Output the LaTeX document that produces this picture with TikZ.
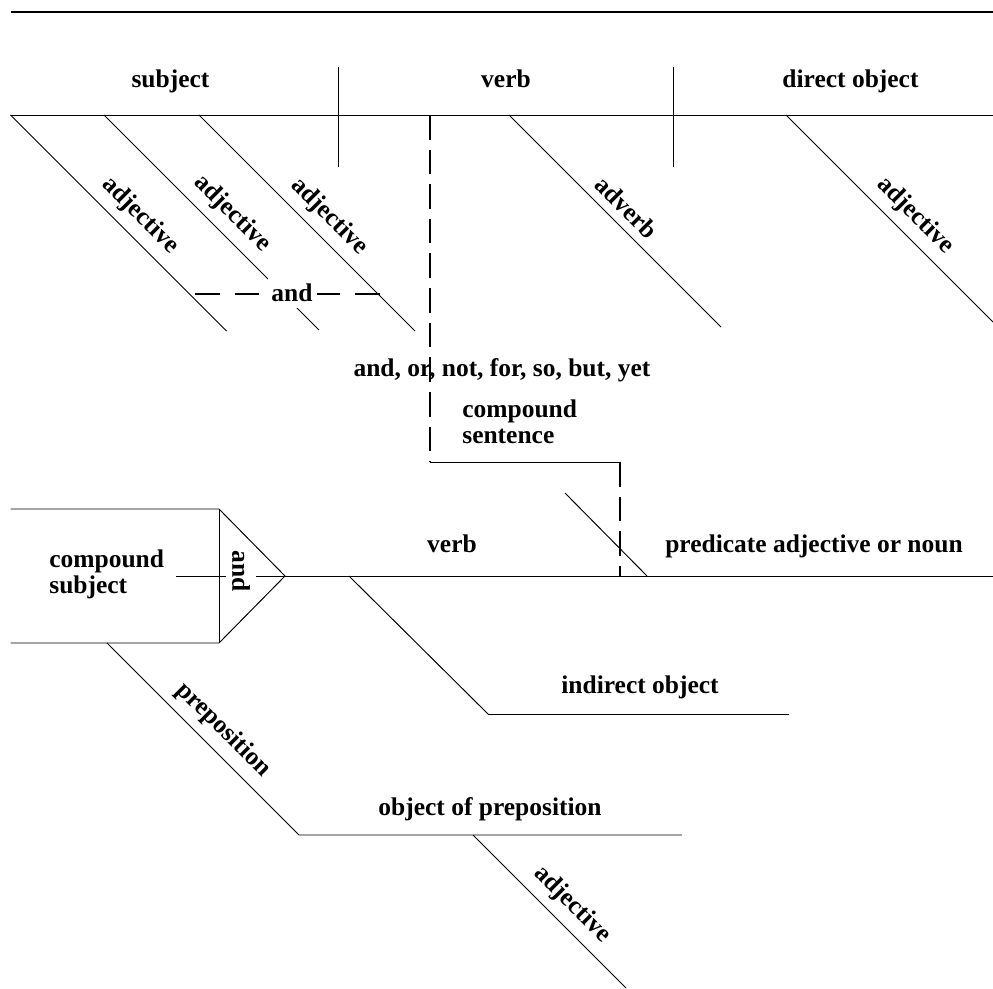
\documentclass[tikz,border=0pt]{standalone}
\usepackage{fontspec}
\setmainfont{Liberation Serif}
\usepackage{tikz}

\tikzset{
	conj/.style={line width=1.1pt, dash pattern=on 14pt off 5.7pt},
	conjB/.style={line width=1.1pt, dash pattern=on 14pt off 8.5pt},
	word/.style={anchor=base},
	lines/.style={anchor=base west, align=left}
}

\begin{document}
\begin{tikzpicture}[line width=0.55pt, font=\fontsize{14.5}{14.75}\selectfont\bfseries]
\useasboundingbox (0, 0) rectangle (19.86, 19.76);
\draw [line width=1.2pt] (0.21, 19.52) -- (19.86, 19.52);
% first sentence
\draw (0.21, 17.46) -- (19.86, 17.46);
\draw (6.76, 18.42) -- (6.76, 16.42);
\draw (13.46, 18.42) -- (13.46, 16.42);
\node [word] (subj) at (3.41, 18.00) {subject};
\node [word] (verbA) at (10.12, 18.00) {verb};
\node [word] (dobj) at (17.01, 18.00) {direct object};
\foreach \x/\len/\pos/\name/\txt in {
	0.21/4.32/0.535/adjA/adjective,
	2.08/4.30/0.528/adjB/adjective,
	3.98/4.32/0.538/adjC/adjective,
	10.18/4.24/0.495/adv/adverb,
	15.72/4.14/0.555/adjD/adjective
	} {
	\draw (\x, 17.46) -- ++(\len, -\len)
	  node [pos=\pos, sloped, above=1.5pt] (\name) {\txt};
}
\node [word, fill=white, inner xsep=2pt] (andadj) at (5.84, 13.72) {and};
\draw [conjB] (3.90, 13.88) -- (andadj.west |- 3.90, 13.88);
\draw [conjB] (7.60, 13.88) -- (andadj.east |- 7.60, 13.88);
% conjunction
\draw [conj] (8.60, 17.46) -- (8.60, 10.52);
\draw (8.60, 10.52) -- (12.40, 10.52);
\draw [conj] (12.40, 10.52) -- (12.40, 8.24);
\node [word] (conjs) at (10.04, 12.22) {and, or, not, for, so, but, yet};
\node [lines] (csent) at (9.12, 10.90) {compound\\sentence};
% second sentence
\draw (0.21, 9.58) -- (4.38, 9.58) -- (5.70, 8.24) -- (4.38, 6.90) -- (0.21, 6.90);
\draw (4.38, 9.58) -- (4.38, 6.90);
\draw (5.70, 8.24) -- (19.86, 8.24);
\node [rotate=-90] (andsub) at (4.82, 8.34) {and};
\draw (3.52, 8.24) -- (andsub.south |- 3.52, 8.24);
\draw (andsub.north |- 3.52, 8.24) -- (5.70, 8.24);
\node [lines] (csub) at (0.86, 7.90) {compound\\subject};
\node [word] (verbB) at (9.04, 8.71) {verb};
\draw (11.30, 9.90) -- (12.94, 8.24);
\node [word] (pred) at (16.28, 8.71) {predicate adjective or noun};
\draw (6.98, 8.24) -- (9.77, 5.47) -- (15.78, 5.47);
\node [word] (iobj) at (12.80, 5.90) {indirect object};
\draw (2.14, 6.90) -- node [pos=0.53, sloped, above=1.5pt] (prep) {preposition}
  (5.98, 3.06) -- (13.64, 3.06);
\node [word] (pobj) at (9.80, 3.46) {object of preposition};
\draw (9.46, 3.06) -- (12.52, 0)
  node [pos=0.553, sloped, above=1.5pt] (adjE) {adjective};
\end{tikzpicture}
\end{document}
